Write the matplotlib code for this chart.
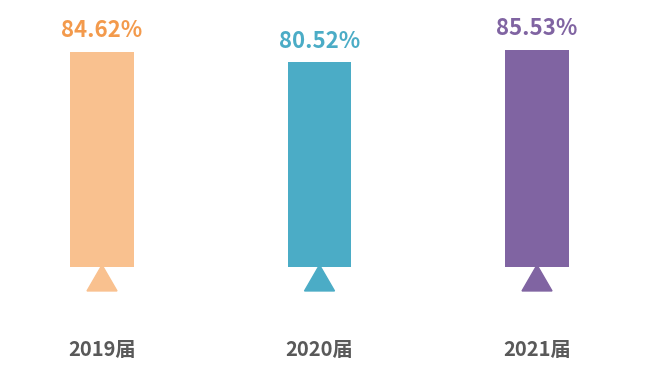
import matplotlib.pyplot as plt
from matplotlib.patches import Polygon

years = ["2019届", "2020届", "2021届"]
rates = [84.62, 80.52, 85.53]
bar_colors = ["#F9C18F", "#4BACC6", "#8064A2"]
label_colors = ["#F39A4C", "#4BACC6", "#8064A2"]

fig = plt.figure(figsize=(6.61, 3.71), dpi=100)
ax = fig.add_axes([0, 0, 1, 1])
ax.set_xlim(-0.469, 2.570)
ax.set_ylim(-40.9, 105.1)
ax.axis("off")

x = list(range(len(years)))
ax.bar(x, rates, width=0.294, color=bar_colors)

for i, (yr, v) in enumerate(zip(years, rates)):
    # little triangle under each bar
    tri = Polygon([(i - 0.069, -9.4), (i + 0.069, -9.4), (i, 0.8)],
                  closed=True, color=bar_colors[i])
    ax.add_patch(tri)
    ax.text(i, v + 8.4, f"{v:.2f}%", ha="center", va="center",
            fontsize=16, fontweight="black",
            family=["Noto Sans CJK SC", "DejaVu Sans"],
            color=label_colors[i])
    ax.text(i, -32.3, yr, ha="center", va="center", fontsize=14.5,
            fontweight="bold", family=["Noto Sans CJK SC", "DejaVu Sans"],
            color="#595959")

fig.savefig("out.png", dpi=100)
